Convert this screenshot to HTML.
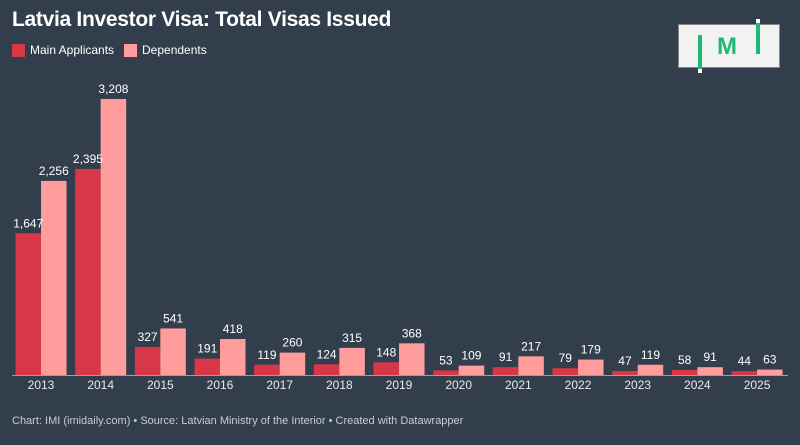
<!DOCTYPE html>
<html><head><meta charset="utf-8"><style>
body{margin:0;width:800px;height:445px;background:#333e4d;font-family:"Liberation Sans",sans-serif;overflow:hidden;position:relative;color:#fff}
.t{position:absolute;left:12px;top:8px;font-size:21px;font-weight:bold;letter-spacing:-0.3px}
.lg{position:absolute;top:43px;font-size:12px;display:flex;align-items:center}
.sw{width:13px;height:13px;margin-right:5px}
.ft{position:absolute;left:12px;top:415px;font-size:11px;color:#c8ccd2}
</style></head><body>
<div class="t">Latvia Investor Visa: Total Visas Issued</div>
<div class="lg" style="left:12px"><div class="sw" style="background:#d73747"></div>Main Applicants</div>
<div class="lg" style="left:124px"><div class="sw" style="background:#ff9c9c"></div>Dependents</div>
<div style="position:absolute;left:678px;top:24px;width:100px;height:42px;background:#f2f2f2;border:1px solid #888">
<div style="position:absolute;left:19px;top:10px;width:4px;height:34px;background:#1fb877"></div>
<div style="position:absolute;left:19px;top:44px;width:4px;height:4px;background:#fff"></div>
<div style="position:absolute;left:38px;top:8px;font-size:24px;font-weight:bold;color:#1fb877">M</div>
<div style="position:absolute;left:77px;top:-2px;width:4px;height:31px;background:#1fb877"></div>
<div style="position:absolute;left:77px;top:-6px;width:4px;height:4px;background:#fff"></div>
</div>
<svg id="c" width="800" height="445" style="position:absolute;left:0;top:0"></svg>
<div class="ft">Chart: IMI (imidaily.com) • Source: Latvian Ministry of the Interior • Created with Datawrapper</div>
<script>
const years=["2013","2014","2015","2016","2017","2018","2019","2020","2021","2022","2023","2024","2025"];
const mainVals=[1647,2395,327,191,119,124,148,53,91,79,47,58,44];
const depVals=[2256,3208,541,418,260,315,368,109,217,179,119,91,63];
const svg=document.getElementById('c');
const NS='http://www.w3.org/2000/svg';
const base=375,scale=276/3208,x0=41,pitch=59.67,bw=25.5;
const y=v=>base-v*scale;
function mk(t,a){const e=document.createElementNS(NS,t);for(const k in a)e.setAttribute(k,a[k]);svg.appendChild(e);return e;}
function lab(x,yy,s){const e=mk('text',{x:x,y:yy,'text-anchor':'middle','font-size':12,fill:'#fff','font-family':'Liberation Sans'});e.textContent=s;return e;}
years.forEach((yr,i)=>{
 const c=x0+i*pitch;
 const r1=mk('rect',{x:c-bw,y:y(mainVals[i]),width:bw,height:mainVals[i]*scale,fill:'#d73747'});
 
 
 const r2=mk('rect',{x:c,y:y(depVals[i]),width:bw,height:depVals[i]*scale,fill:'#ff9c9c'});
 
 
 const l1=lab(c-bw/2,y(mainVals[i])-6,mainVals[i].toLocaleString('en-US'));
 
 
 const l2=lab(c+bw/2,y(depVals[i])-6,depVals[i].toLocaleString('en-US'));
 
 
 const t=lab(c,389,yr);
 t.setAttribute('fill','#e8eaed');
 
 
});
const ax=mk('line',{x1:12,x2:788,y1:base+0.5,y2:base+0.5,stroke:'#9aa0a8','stroke-width':1});


</script>
</body></html>
